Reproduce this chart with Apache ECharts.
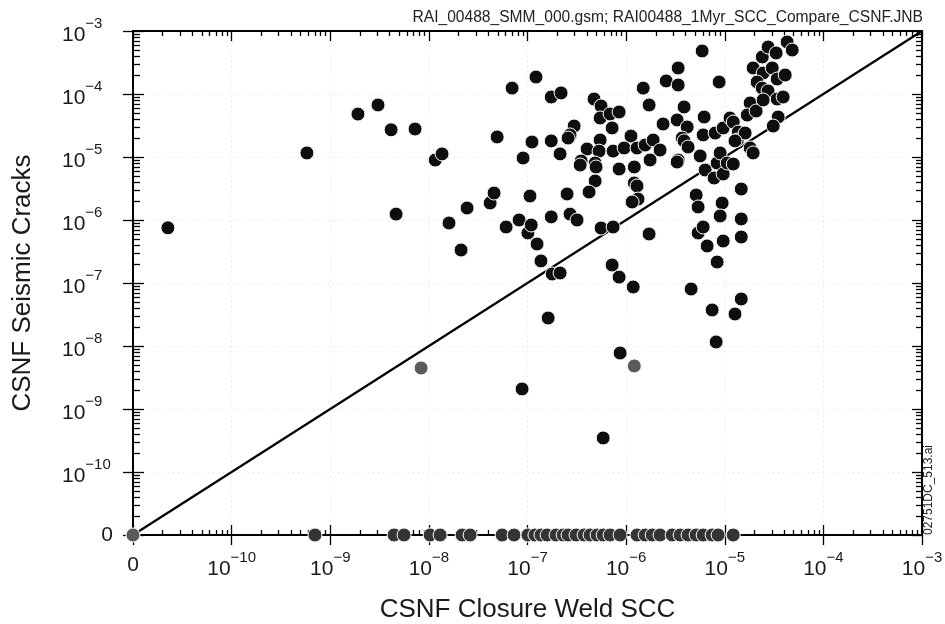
<!DOCTYPE html>
<html><head><meta charset="utf-8">
<script src="https://cdn.jsdelivr.net/npm/echarts@6/dist/echarts.min.js"></script>
<style>html,body{margin:0;padding:0;background:#fff}#c{width:945px;height:624px}</style>
</head><body><div id="c"></div>
<script>
// ---- data ----
const tickValues = [0, 1e-10, 1e-9, 1e-8, 1e-7, 1e-6, 1e-5, 1e-4, 1e-3];
const AXIS_ZERO = 1e-11; // position where "0" is drawn on both log axes

const weldSCC = [
  2.26e-11, 5.8e-10, 1.91e-9, 3.05e-9, 4.14e-9, 7.24e-9, 4.65e-9, 1.16e-8, 1.36e-8, 1.6e-8,
  2.44e-8, 2.12e-8, 4.18e-8, 4.58e-8, 4.92e-8, 6.07e-8, 6.98e-8, 8.22e-8, 9.02e-8, 1.01e-7,
  1.09e-7, 1.06e-7, 1.11e-7, 1.22e-7, 1.25e-7, 1.37e-7, 8.81e-8, 1.62e-7, 1.74e-7, 2.19e-7,
  1.74e-7, 1.74e-7, 1.78e-7, 2.14e-7, 2.14e-7, 2.52e-7, 2.7e-7, 3.18e-7, 2.97e-7, 2.7e-7,
  2.58e-7, 4.73e-7, 5.57e-7, 5.45e-7, 6.88e-7, 8.49e-7, 7.21e-7, 1.12e-6, 5.45e-7, 4.02e-7,
  5.32e-7, 7.38e-7, 9.55e-7, 1.29e-6, 3.5e-7, 3.42e-7, 4.85e-7, 4.96e-7, 8.49e-7, 1.21e-6,
  4.85e-7, 4.21e-7, 1.75e-6, 1.21e-6, 1.29e-6, 1.32e-6, 1.15e-6, 5.57e-7, 7.38e-7, 7.21e-7,
  8.49e-7, 1.18e-6, 8.69e-7, 5.85e-7, 1.71e-6, 1.49e-6, 1.71e-6, 2.55e-6, 3.37e-6, 3.37e-6,
  3.87e-6, 5.9e-6, 8.77e-6, 6.18e-6, 2.37e-6, 3.29e-6, 4.16e-6, 6.04e-6, 3.7e-6, 3.87e-6,
  1.56e-6, 1.88e-6, 2.21e-6, 3.37e-6, 5.63e-6, 4.25e-6, 3.29e-6, 8.0e-6, 9.64e-6, 6.33e-6,
  8.37e-6, 7.8e-6, 9.64e-6, 8.98e-6, 1.06e-5, 1.22e-5, 5.13e-6, 5.37e-6, 9.41e-6, 1.47e-5,
  8.98e-6, 1.47e-5, 5.37e-6, 6.04e-6, 6.63e-6, 9.64e-6, 1.47e-5, 8.37e-6, 4.56e-6, 7.45e-6,
  1.27e-5, 1.47e-5, 8.18e-6, 1.13e-5, 1.22e-5, 1.37e-5, 1.34e-5, 1.61e-5, 1.27e-5, 1.81e-5,
  1.69e-5, 2.08e-5, 1.81e-5, 1.94e-5, 1.94e-5, 2.4e-5, 2.75e-5, 3.32e-5, 4.29e-5, 4.83e-5,
  2.45e-5, 3.03e-5, 3.4e-5, 4.1e-5, 2.13e-5, 2.4e-5, 2.75e-5, 3.4e-5, 2.45e-5, 3.48e-5,
  3.1e-5, 3.91e-5
];
const seismicCracks = [
  7.5e-7, 1.16e-5, 4.8e-5, 6.7e-5, 2.7e-5, 2.78e-5, 1.24e-6, 8.96e-6, 1.12e-5, 8.96e-7,
  1.55e-6, 3.34e-7, 1.86e-6, 2.68e-6, 2.08e-5, 7.74e-7, 1.24e-4, 1.0e-6, 9.64e-6, 6.22e-7,
  8.33e-7, 2.4e-6, 1.73e-5, 1.86e-4, 4.16e-7, 2.24e-7, 2.08e-9, 2.78e-8, 8.96e-5, 1.04e-4,
  1.8e-5, 1.12e-6, 1.39e-7, 1.44e-7, 1.12e-5, 2.59e-6, 1.24e-6, 1.0e-6, 3.1e-5, 2.24e-5,
  2.0e-5, 8.33e-5, 6.45e-5, 4.16e-5, 4.82e-5, 5.18e-5, 2.89e-5, 2.15e-5, 1.86e-5, 1.34e-5,
  1.24e-5, 1.24e-5, 1.39e-5, 1.39e-5, 8.64e-6, 7.46e-6, 8.03e-6, 6.94e-6, 6.45e-6, 6.94e-6,
  4.16e-6, 2.78e-6, 8.96e-6, 3.87e-6, 3.47e-6, 2.15e-6, 1.93e-6, 7.46e-7, 7.74e-7, 1.93e-7,
  1.24e-7, 8.64e-8, 7.74e-9, 3.47e-10, 6.0e-7, 1.24e-4, 6.69e-5, 1.61e-4, 2.59e-4, 1.39e-4,
  6.22e-5, 4.82e-4, 1.55e-4, 4.31e-5, 3.34e-5, 3.87e-5, 2.99e-5, 2.24e-5, 2.0e-5, 1.8e-5,
  1.55e-5, 1.86e-5, 1.29e-5, 8.96e-6, 1.04e-5, 1.44e-5, 8.33e-6, 2.4e-5, 2.89e-5, 6.22e-6,
  8.03e-6, 4.64e-6, 5.37e-6, 1.16e-5, 8.03e-6, 7.74e-6, 2.49e-6, 1.61e-6, 1.86e-6, 3.1e-6,
  1.16e-6, 1.04e-6, 6.22e-7, 7.74e-7, 3.87e-7, 4.64e-7, 5.37e-7, 2.15e-7, 8.03e-8, 3.73e-8,
  3.22e-8, 5.57e-8, 1.16e-8, 4.16e-5, 3.59e-5, 2.49e-5, 1.86e-5, 2.4e-5, 1.8e-5, 7.2e-5,
  4.64e-5, 5.37e-5, 1.39e-5, 1.16e-5, 2.59e-4, 3.87e-4, 5.57e-4, 4.48e-4, 6.69e-4, 4.99e-4,
  2.15e-4, 2.59e-4, 1.73e-4, 2.0e-4, 1.55e-4, 1.24e-4, 1.12e-4, 8.33e-5, 8.03e-5, 4.31e-5,
  3.1e-5, 8.96e-5
];
// realizations with zero seismic-crack value (bottom row)
const zeroCrackWeld = [
  7.0e-10, 4.44e-9, 5.6e-9, 1.03e-8, 1.3e-8, 2.17e-8, 2.62e-8, 5.53e-8, 7.31e-8, 1.01e-7,
  1.19e-7, 1.37e-7, 1.58e-7, 1.95e-7, 2.3e-7, 2.58e-7, 3.11e-7, 3.75e-7, 4.31e-7, 5.08e-7,
  5.85e-7, 6.88e-7, 8.69e-7, 1.29e-6, 1.56e-6, 1.84e-6, 2.21e-6, 2.93e-6, 3.53e-6, 4.25e-6,
  5.13e-6, 6.04e-6, 7.45e-6, 8.57e-6, 1.22e-5
];
const faintWeld = [0, 8.34e-9, 1.21e-6];
const faintCracks = [0, 4.48e-9, 4.82e-9];
const diagonalLine = [0, 1e-3];

// ---- helpers ----
const toAxis = v => (v === 0 ? AXIS_ZERO : v);
const majorTicks = tickValues.map(toAxis);
const minorTicks = [];
for (let e = -11; e <= -4; e++) {
  for (let k = 2; k <= 9; k++) minorTicks.push(Number((k * Math.pow(10, e)).toPrecision(3)));
}
const FONT = 'Liberation Sans, Arial, Helvetica, sans-serif';
const labelFormatter = v => {
  const e = Math.round(Math.log10(v));
  if (e <= -11) return '{z|0}';
  return '{b|10}{s|\u2212' + (-e) + '}';
};
const richX = {
  b: {fontSize: 21, lineHeight: 30, verticalAlign: 'bottom', fontFamily: FONT, color: '#1a1a1a'},
  s: {fontSize: 15, lineHeight: 15, verticalAlign: 'top', fontFamily: FONT, color: '#1a1a1a'},
  z: {fontSize: 21, lineHeight: 30, fontFamily: FONT, color: '#1a1a1a'}
};
const richY = {
  b: richX.b, s: richX.s,
  z: {fontSize: 21, lineHeight: 30, fontFamily: FONT, color: '#1a1a1a', width: 51, align: 'right'}
};

function baseAxis(position, extra) {
  const a = {
    type: 'log', logBase: 10, min: AXIS_ZERO, max: 1e-3, position: position,
    axisLine: {show: false, onZero: false},
    axisTick: {show: false},
    axisLabel: {show: false},
    splitLine: {show: false},
    minorTick: {show: false}, minorSplitLine: {show: false},
    axisPointer: {show: false}, silent: true
  };
  return Object.assign(a, extra);
}
const blackLine = {show: true, onZero: false, lineStyle: {color: '#000', width: 2}};
const tick = (vals, len, inside) => ({show: true, inside: inside, length: len, customValues: vals,
  lineStyle: {color: '#000', width: 1.3}});
const gridLine = {show: true, lineStyle: {color: '#e2e2e2', width: 1, type: [1, 4]}};

const xAxes = [
  baseAxis('bottom', {
    axisLine: blackLine, axisTick: tick(majorTicks, 10, false), splitLine: gridLine,
    axisLabel: {show: true, customValues: majorTicks, formatter: labelFormatter, margin: 15, rich: richX},
    name: 'CSNF Closure Weld SCC', nameLocation: 'middle', nameGap: 62,
    nameTextStyle: {fontSize: 26, fontFamily: FONT, color: '#1a1a1a'}
  }),
  baseAxis('bottom', {axisTick: tick(majorTicks, 10, true)}),
  baseAxis('bottom', {axisTick: tick(minorTicks, 5, true)}),
  baseAxis('top', {axisLine: blackLine, axisTick: tick(majorTicks, 10, true)}),
  baseAxis('top', {axisTick: tick(minorTicks, 5, true)})
];
const yAxes = [
  baseAxis('left', {
    axisLine: blackLine, axisTick: tick(majorTicks, 10, false), splitLine: gridLine,
    axisLabel: {show: true, customValues: majorTicks, formatter: labelFormatter, margin: 71, align: 'left', rich: richY},
    name: 'CSNF Seismic Cracks', nameLocation: 'middle', nameGap: 97,
    nameTextStyle: {fontSize: 26, fontFamily: FONT, color: '#1a1a1a'}
  }),
  baseAxis('left', {axisTick: tick(majorTicks, 11, true)}),
  baseAxis('left', {axisTick: tick(minorTicks, 7, true)}),
  baseAxis('right', {axisLine: blackLine, axisTick: tick(majorTicks, 10, true)}),
  baseAxis('right', {axisTick: tick(minorTicks, 6, true)})
];

const chart = echarts.init(document.getElementById('c'), null, {renderer: 'canvas'});
chart.setOption({
  animation: false,
  backgroundColor: '#fff',
  grid: {left: 133, right: 23, top: 31, bottom: 89, containLabel: false, outerBoundsMode: 'none'},
  xAxis: xAxes,
  yAxis: yAxes,
  series: [
    {
      type: 'line', xAxisIndex: 0, yAxisIndex: 0, z: 1, silent: true,
      data: diagonalLine.map(v => [toAxis(v), toAxis(v)]),
      showSymbol: false, symbol: 'none', clip: false,
      lineStyle: {color: '#000', width: 2.2}
    },
    {
      type: 'scatter', xAxisIndex: 0, yAxisIndex: 0, z: 3, clip: false,
      data: zeroCrackWeld.map(x => [x, AXIS_ZERO]),
      symbolSize: 14, itemStyle: {color: '#343434', borderColor: '#fff', borderWidth: 1, opacity: 1}
    },
    {
      type: 'scatter', xAxisIndex: 0, yAxisIndex: 0, z: 3, clip: false,
      data: faintWeld.map((x, i) => [toAxis(x), toAxis(faintCracks[i])]),
      symbolSize: 14, itemStyle: {color: '#5a5a5a', borderColor: '#fff', borderWidth: 1, opacity: 1}
    },
    {
      type: 'scatter', xAxisIndex: 0, yAxisIndex: 0, z: 4, clip: false,
      data: weldSCC.map((x, i) => [x, seismicCracks[i]]),
      symbolSize: 14, itemStyle: {color: '#0e0e0e', borderColor: '#fff', borderWidth: 1, opacity: 1}
    }
  ],
  graphic: [
    {type: 'text', right: 22, top: 10, silent: true,
      style: {text: 'RAI_00488_SMM_000.gsm; RAI00488_1Myr_SCC_Compare_CSNF.JNB',
        font: '15.6px ' + FONT, fill: '#222'}},
    {type: 'text', x: 929, y: 490, rotation: Math.PI / 2, silent: true,
      style: {text: '02751DC_513.ai', font: '12px ' + FONT, fill: '#222', align: 'center', verticalAlign: 'middle'}}
  ]
});
</script>
</body></html>
